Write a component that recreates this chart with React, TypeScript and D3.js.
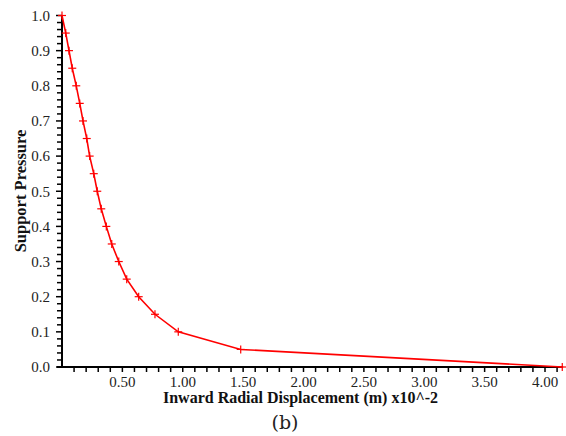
import React from "react";
import * as d3 from "d3";

const pressure = [1.0, 0.95, 0.9, 0.85, 0.8, 0.75, 0.7, 0.65, 0.6, 0.55, 0.5, 0.45, 0.4, 0.35, 0.3, 0.25, 0.2, 0.15, 0.1, 0.05, 0.0];
const displacement = [0.0, 0.031, 0.058, 0.085, 0.118, 0.147, 0.174, 0.205, 0.229, 0.263, 0.292, 0.325, 0.367, 0.412, 0.47, 0.536, 0.635, 0.77, 0.963, 1.48, 4.143];
const xTickLabels = ["0.50", "1.00", "1.50", "2.00", "2.50", "3.00", "3.50", "4.00"];
const yTickLabels = ["0.0", "0.1", "0.2", "0.3", "0.4", "0.5", "0.6", "0.7", "0.8", "0.9", "1.0"];

const W = 566, H = 436;
const x0 = 62, x1 = 545; // pixel of 0 and 4.0
const xScale = d3.scaleLinear().domain([0, 4]).range([x0, x1]);
const xMax = 4.15;
const yScale = d3.scaleLinear().domain([0, 1]).range([367, 15.5]);

export default function App() {
  const pts = displacement.map((d, i) => [d, pressure[i]] as [number, number]);
  const line = d3.line<[number, number]>().x(d => xScale(d[0])).y(d => yScale(d[1]));
  const xMinor = d3.range(1, 42).map(i => i / 10);
  const yMinor = d3.range(0, 51).map(i => i / 50);
  const serif = "'Liberation Serif', 'Times New Roman', serif";
  return (
    <svg width={W} height={H} style={{ position: "absolute", left: 0, top: 0, background: "#fff" }}>
      <rect width={W} height={H} fill="#fff" />
      {/* y ticks */}
      {yMinor.map((v, i) => (
        <line key={"ym" + i} x1={x0 - (i % 5 === 0 ? 6 : 5)} x2={x0} y1={yScale(v)} y2={yScale(v)} stroke="#000" strokeWidth={1.5} />
      ))}
      {yTickLabels.map((t, i) => (
        <text key={"yl" + i} x={x0 - 12} y={yScale(+t)} dy="0.35em" textAnchor="end" fontFamily={serif} fontSize={15} fill="#222">{t}</text>
      ))}
      {/* x ticks */}
      {xMinor.map((v, i) => (
        <line key={"xm" + i} x1={xScale(v)} x2={xScale(v)} y1={yScale(0)} y2={yScale(0) + 5} stroke="#000" strokeWidth={1.5} />
      ))}
      {xTickLabels.map((t, i) => (
        <text key={"xl" + i} x={xScale(+t)} y={387} textAnchor="middle" fontFamily={serif} fontSize={15} fill="#222">{t}</text>
      ))}
      {/* axes */}
      <line x1={x0} x2={x0} y1={yScale(1)} y2={yScale(0) + 1} stroke="#000" strokeWidth={2} />
      <line x1={x0 - 5} x2={xScale(xMax)} y1={yScale(0)} y2={yScale(0)} stroke="#000" strokeWidth={2} />
      {/* series */}
      <path d={line(pts) || ""} fill="none" stroke="#ff0000" strokeWidth={1.6} />
      {pts.map((p, i) => (
        <g key={"p" + i} stroke="#ff0000" strokeWidth={1.2}>
          <line x1={xScale(p[0]) - 4} x2={xScale(p[0]) + 4} y1={yScale(p[1])} y2={yScale(p[1])} />
          <line x1={xScale(p[0])} x2={xScale(p[0])} y1={yScale(p[1]) - 4} y2={yScale(p[1]) + 4} />
        </g>
      ))}
      {/* titles */}
      <text x={300.5} y={403} textAnchor="middle" fontFamily={serif} fontWeight="bold" fontSize={16} fill="#111">Inward Radial Displacement (m) x10^-2</text>
      <text transform={`translate(26,191) rotate(-90)`} textAnchor="middle" fontFamily={serif} fontWeight="bold" fontSize={16.5} fill="#111">Support Pressure</text>
      <text x={285} y={429} textAnchor="middle" fontFamily="'DejaVu Serif', serif" fontSize={19} fill="#222">(b)</text>
    </svg>
  );
}
